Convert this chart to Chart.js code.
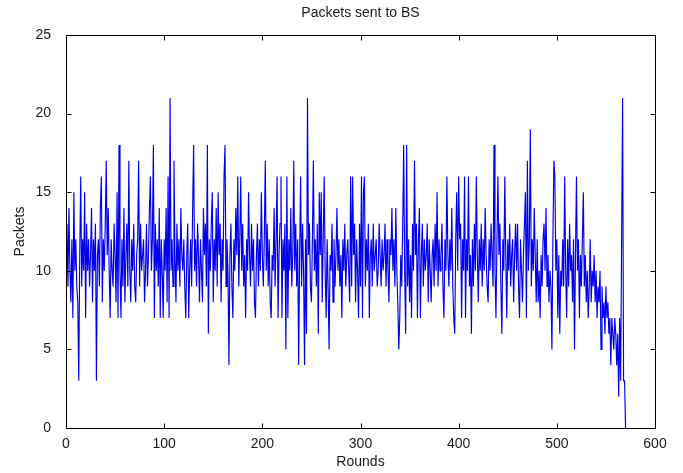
<!DOCTYPE html>
<html>
<head>
<meta charset="utf-8">
<script src="https://cdn.jsdelivr.net/npm/chart.js@4.4.1/dist/chart.umd.min.js"></script>
<style>
    html, body { margin: 0; padding: 0; background: #ffffff; }
    #wrap { width: 683px; height: 473px; }
</style>
</head>
<body>
<div id="wrap"><canvas id="packetsChart" width="683" height="473"></canvas></div>
<script>

//
// Data (one value per round)
//

const packets = [
    13, 9, 14, 10, 8, 12, 7, 15, 10, 12, 9, 8, 3, 11, 16, 9, 12, 10, 15, 7,
    13, 10, 12, 9, 11, 14, 8, 12, 10, 13, 3, 11, 12, 9, 14, 16, 8, 12, 10, 13,
    17, 11, 14, 10, 7, 12, 10,
    9, 13, 11, 8, 15, 7, 18, 10, 7, 12, 9, 14, 8, 11, 13, 9, 17, 10, 8, 12,
    10, 13, 9, 8, 11, 12, 17, 9, 13, 10, 11, 12, 8, 10, 13, 9, 11, 14, 16, 10,
    12, 18, 7, 13, 10, 12, 9, 14, 7, 12, 10,
    7, 12, 10, 14, 8, 16, 7, 21, 10, 12, 9, 17, 11, 8, 13, 10, 12, 9, 14, 11,
    10, 12, 9, 7, 11, 13, 7, 10, 12, 9, 14, 18, 10, 12, 9, 13, 11, 8, 12, 10,
    8, 14, 11, 13, 9, 18, 6, 12, 10, 13, 15,
    8, 12, 10, 14, 9, 15, 11, 13, 8, 12, 10, 16, 18, 9, 12, 10, 4, 11, 13, 9,
    7, 12, 10, 14, 11, 16, 9, 12, 16, 10, 13, 9, 11, 7, 12, 10, 15, 11, 9, 13,
    10, 12, 8, 7, 11, 13, 9, 12, 10, 15, 11,
    9, 12, 17, 10, 13, 9, 12, 8, 7, 11, 10, 14, 9, 12, 16, 7, 11, 13, 16, 7,
    12, 10, 13, 5, 16, 7, 12, 10, 14, 9, 11, 17, 10, 13, 9, 12, 4, 11, 16, 9,
    13, 10, 4, 12, 6, 21, 11, 13, 9, 8, 12,
    17, 10, 12, 9, 13, 6, 15, 11, 15, 8, 12, 16, 10, 7, 12, 9, 5, 11, 10, 13,
    8, 12, 9, 11, 14, 10, 12, 9, 11, 7, 12, 10, 13, 9, 11, 12, 10, 8, 16, 9,
    16, 11, 13, 8, 12, 10, 7, 13, 9, 16, 7,
    15, 16, 9, 12, 10, 13, 7, 11, 12, 9, 13, 10, 11, 12, 9, 10, 13, 11, 9, 12,
    10, 11, 13, 9, 12, 10, 8, 12, 11, 14, 10, 12, 9, 14, 10, 8, 5, 7, 11, 9,
    13, 18, 10, 6, 18, 9, 12, 8, 11, 7, 13,
    10, 17, 11, 13, 7, 12, 14, 7, 11, 13, 9, 12, 10, 11, 13, 8, 12, 10, 8, 11,
    12, 9, 13, 10, 15, 9, 12, 10, 11, 13, 9, 7, 12, 10, 16, 11, 9, 12, 10, 14,
    9, 7, 6, 12, 15, 10, 16, 12, 13, 7,
    12, 10, 16, 7, 12, 10, 16, 9, 11, 6, 12, 9, 13, 10, 16, 11, 8, 12, 10, 13,
    9, 12, 10, 14, 11, 9, 8, 12, 10, 13, 11, 9, 18, 10, 7, 12, 16, 11, 13, 9,
    6, 12, 10, 16, 11, 7, 12, 10, 13, 9, 11,
    12, 8, 11, 13, 10, 13, 9, 7, 12, 10, 8, 11, 13, 15, 7, 17, 10, 12, 19, 9,
    12, 10, 14, 11, 8, 12, 8, 10, 7, 11, 9, 12, 13, 10, 14, 9, 11, 8, 10, 9,
    5, 12, 17, 16, 10, 12, 7, 11, 6, 10, 9,
    12, 9, 16, 10, 7, 12, 9, 13, 10, 11, 8, 12, 5, 11, 16, 10, 12, 7, 11, 9,
    12, 15, 9, 11, 8, 10, 7, 9, 12, 8, 10, 9, 11, 8, 10, 7, 9, 8, 10, 5,
    9, 7, 8, 6, 9, 7, 8, 6, 7, 4, 7,
    6, 5, 7, 6, 4, 6, 2, 7, 3, 12, 21, 3, 3, 0
];

// x positions are simply the round numbers 1..N
const rounds = packets.map((_, i) => i + 1);

const xTicks = [0, 100, 200, 300, 400, 500, 600];
const yTicks = [0, 5, 10, 15, 20, 25];

const chartTitle = "Packets sent to BS";
const xTitle = "Rounds";
const yTitle = "Packets";

const fontFamily = "'Liberation Sans', Arial, Helvetica, sans-serif";

//
// MATLAB style frame: box round the axes, ticks pointing inward on all sides
//

const matlabFrame = {
    id: "matlabFrame",

    afterDatasetsDraw(chart) {

        const { ctx, chartArea: { left, right, top, bottom }, scales: { x, y } } = chart;

        const l = Math.round(left) + 0.5;
        const r = Math.round(right) + 0.5;
        const t = Math.round(top) + 0.5;
        const b = Math.round(bottom) + 0.5;
        const tick = 5;

        ctx.save();
        ctx.strokeStyle = "#000000";
        ctx.lineWidth = 1;

        ctx.beginPath();
        ctx.rect(l, t, r - l, b - t);

        xTicks.forEach(v => {
            const px = Math.round(x.getPixelForValue(v)) + 0.5;
            ctx.moveTo(px, b);
            ctx.lineTo(px, b - tick);
            ctx.moveTo(px, t);
            ctx.lineTo(px, t + tick);
        });

        yTicks.forEach(v => {
            const py = Math.round(y.getPixelForValue(v)) + 0.5;
            ctx.moveTo(l, py);
            ctx.lineTo(l + tick, py);
            ctx.moveTo(r, py);
            ctx.lineTo(r - tick, py);
        });

        ctx.stroke();

        // title over the axes
        ctx.fillStyle = "#1a1a1a";
        ctx.font = "14px " + fontFamily;
        ctx.textAlign = "center";
        ctx.textBaseline = "middle";
        ctx.fillText(chartTitle, (left + right) / 2, 13);

        ctx.restore();
    }
};

Chart.register(matlabFrame);

//
// Chart
//

const ctx = document.getElementById("packetsChart");

new Chart(ctx, {
    type: "line",

    data: {
        datasets: [{
            label: chartTitle,
            data: rounds.map((r, i) => ({ x: r, y: packets[i] })),
            borderColor: "#0000f0",
            borderWidth: 1.15,
            pointRadius: 0,
            tension: 0,
            fill: false
        }]
    },

    options: {
        responsive: false,
        animation: false,
        parsing: false,
        normalized: true,

        layout: {
            padding: { top: 35, right: 28, left: 0, bottom: 0 }
        },

        plugins: {
            legend: { display: false },
            tooltip: { enabled: false },
            title: { display: false }
        },

        scales: {
            x: {
                type: "linear",
                min: 0,
                max: 600,
                afterBuildTicks: scale => {
                    scale.ticks = xTicks.map(v => ({ value: v }));
                },
                afterFit: scale => {
                    scale.height = 45;
                },
                grid: { display: false },
                border: { display: false },
                ticks: {
                    color: "#1a1a1a",
                    padding: 0,
                    maxRotation: 0,
                    font: { family: fontFamily, size: 14 }
                },
                title: {
                    display: true,
                    text: xTitle,
                    color: "#1a1a1a",
                    padding: { top: 0, bottom: 2 },
                    font: { family: fontFamily, size: 14 }
                }
            },
            y: {
                type: "linear",
                min: 0,
                max: 25,
                afterBuildTicks: scale => {
                    scale.ticks = yTicks.map(v => ({ value: v }));
                },
                afterFit: scale => {
                    scale.width = 66;
                },
                grid: { display: false },
                border: { display: false },
                ticks: {
                    color: "#1a1a1a",
                    padding: 7,
                    font: { family: fontFamily, size: 14 }
                },
                title: {
                    display: true,
                    text: yTitle,
                    color: "#1a1a1a",
                    padding: { top: 12, bottom: 0 },
                    font: { family: fontFamily, size: 14 }
                }
            }
        }
    }
});

</script>
</body>
</html>
